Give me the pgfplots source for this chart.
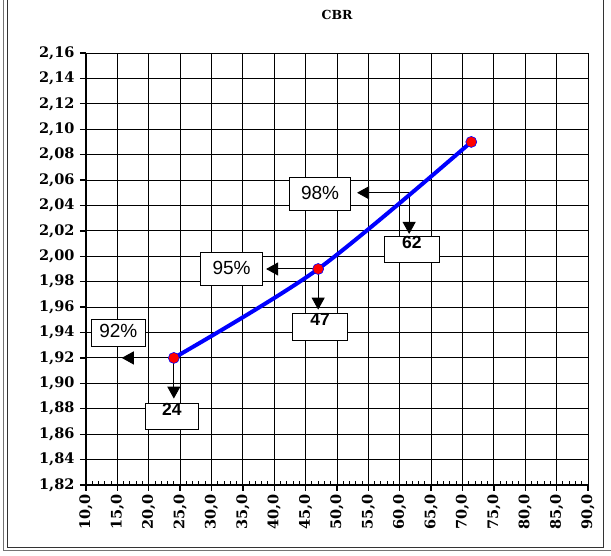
\documentclass[border=0pt]{standalone}
\usepackage{pgfplots}
\pgfplotsset{compat=1.18}
\usepackage{fontspec}
\setmainfont{DejaVu Serif}
\newfontfamily\arial{Liberation Sans}
\usetikzlibrary{arrows.meta}

\begin{document}
\begin{tikzpicture}
\path[use as bounding box] (-86pt,-71pt) rectangle (525pt,485pt);
% outer frame
\draw[line width=1pt, black!55] (-82pt,485pt) -- (-82pt,-66pt) -- (525pt,-66pt);
\draw[line width=1pt, black!80] (-78.5pt,485pt) -- (-78.5pt,-62.5pt) -- (517pt,-62.5pt) -- (517pt,485pt);
\node[font=\fontsize{12.5}{12.5}\selectfont\bfseries] at (251pt,470pt) {CBR};
\begin{axis}[
  at={(0pt,0pt)}, anchor=south west,
  scale only axis,
  width=502pt, height=432pt,
  xmin=10, xmax=90, ymin=1.82, ymax=2.16,
  xtick={10,15,...,90},
  ytick={1.82,1.84,1.86,1.88,1.90,1.92,1.94,1.96,1.98,2.00,2.02,2.04,2.06,2.08,2.10,2.12,2.14,2.16},
  minor x tick num=4,
  grid=major,
  major grid style={black, line width=0.9pt},
  axis x line*=bottom, axis y line*=left,
  axis line style={line width=1.8pt, -},
  tick align=outside,
  major tick length=6pt,
  minor tick length=4pt,
  every tick/.style={black, line width=1.3pt},
  minor x tick style={yshift=4pt, line width=1pt},
  tick label style={font=\fontsize{14.5}{15}\selectfont\bfseries},
  /pgf/number format/assume math mode=true,
  yticklabel style={xshift=-2pt, /pgf/number format/.cd, fixed, fixed zerofill, precision=2, use comma},
  xticklabel style={rotate=90, anchor=east, /pgf/number format/.cd, fixed, fixed zerofill, precision=1, use comma},
]
% arrows
\tikzset{arr/.style={line width=1pt, -{Triangle[length=12pt,width=13pt]}}}
\draw[arr] (axis cs:24,1.92) -- (axis cs:15.7,1.92);
\draw[arr] (axis cs:24,1.92) -- (axis cs:24,1.888);
\draw[arr] (axis cs:47,1.99) -- (axis cs:38.7,1.99);
\draw[arr] (axis cs:47,1.99) -- (axis cs:47,1.958);
\draw[arr] (axis cs:61.5,2.05) -- (axis cs:53.2,2.05);
\draw[arr] (axis cs:61.5,2.05) -- (axis cs:61.5,2.0176);
% boxes
\draw[fill=white, line width=0.9pt] (axis cs:10.8,1.929) rectangle (axis cs:19.5,1.950);
\node[font=\arial\fontsize{19}{19}\selectfont] at (axis cs:15.15,1.941) {92\%};
\draw[fill=white, line width=0.9pt] (axis cs:28.3,1.977) rectangle (axis cs:38.1,2.003);
\node[font=\arial\fontsize{19}{19}\selectfont] at (axis cs:33.2,1.991) {95\%};
\draw[fill=white, line width=0.9pt] (axis cs:42.5,2.036) rectangle (axis cs:52.1,2.062);
\node[font=\arial\fontsize{19}{19}\selectfont] at (axis cs:47.3,2.050) {98\%};
\draw[fill=white, line width=0.9pt] (axis cs:19.4,1.864) rectangle (axis cs:28.0,1.884);
\node[font=\arial\bfseries\fontsize{17.5}{17.5}\selectfont, anchor=north, inner sep=0pt] at (axis cs:23.7,1.8842) {24};
\draw[fill=white, line width=0.9pt] (axis cs:42.9,1.934) rectangle (axis cs:51.7,1.955);
\node[font=\arial\bfseries\fontsize{17.5}{17.5}\selectfont, anchor=north, inner sep=0pt] at (axis cs:47.3,1.9552) {47};
\draw[fill=white, line width=0.9pt] (axis cs:57.6,1.995) rectangle (axis cs:66.3,2.016);
\node[font=\arial\bfseries\fontsize{17.5}{17.5}\selectfont, anchor=north, inner sep=0pt] at (axis cs:61.95,2.0162) {62};
% curve
\addplot[blue, line width=4pt, smooth] coordinates {(24,1.92) (47,1.99) (71.4,2.09)};
\addplot[only marks, mark=*, mark size=5.5pt, mark options={fill=red, draw=blue, line width=0.6pt}] coordinates {(24,1.92) (47,1.99) (71.4,2.09)};
\end{axis}
\end{tikzpicture}
\end{document}
